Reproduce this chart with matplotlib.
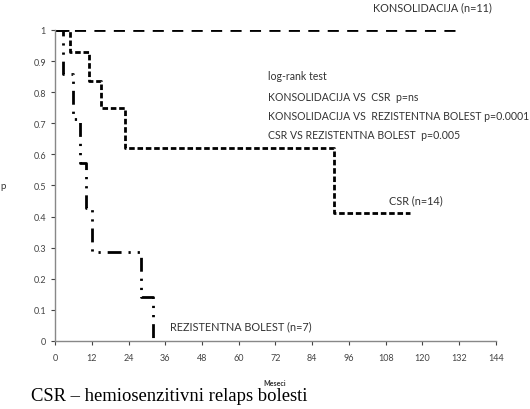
import matplotlib.pyplot as plt

# survival data (months, probability)
kons_t = [0, 132]
kons_p = [1.0, 1.0]

csr_t = [0, 5, 11, 15, 23, 91, 116]
csr_p = [1.0, 0.929, 0.836, 0.75, 0.62, 0.41, 0.41]

rez_t = [0, 2.5, 6, 8, 10, 12, 28, 32]
rez_p = [1.0, 0.857, 0.714, 0.571, 0.429, 0.286, 0.143, 0.0]

xticks = list(range(0, 145, 12))
yticks = [0, 0.1, 0.2, 0.3, 0.4, 0.5, 0.6, 0.7, 0.8, 0.9, 1]
ytick_labels = ["0", "0.1", "0.2", "0.3", "0.4", "0.5", "0.6", "0.7", "0.8", "0.9", "1"]

stats_lines = [
    "log-rank test",
    "KONSOLIDACIJA VS  CSR  p=ns",
    "KONSOLIDACIJA VS  REZISTENTNA BOLEST p=0.0001",
    "CSR VS REZISTENTNA BOLEST  p=0.005",
]

plt.rcParams['font.family'] = ['Lato', 'DejaVu Sans']

fig = plt.figure(figsize=(5.3, 4.1), dpi=100)
ax = fig.add_axes([0.1038, 0.1659, 0.832, 0.7585])

ax.plot(kons_t, kons_p, color="black", lw=2, linestyle=(0, (4, 3)),
        drawstyle="steps-post")
ax.plot(csr_t, csr_p, color="black", lw=2, linestyle=(0, (2, 1)),
        drawstyle="steps-post")
ax.plot(rez_t, rez_p, color="black", lw=2, linestyle=(0, (5, 2.5, 0.8, 2.5, 0.8, 2.5)),
        drawstyle="steps-post")

ax.set_xlim(0, 144)
ax.set_ylim(0, 1)
ax.set_xticks(xticks)
ax.set_yticks(yticks)
ax.set_yticklabels(ytick_labels)
ax.tick_params(labelsize=6.5, colors="#444444", length=3, width=0.8)
ax.tick_params(axis="x", pad=6)

for s in ["top", "right"]:
    ax.spines[s].set_visible(False)
for s in ["left", "bottom"]:
    ax.spines[s].set_color("#888888")
    ax.spines[s].set_linewidth(1)

ax.set_ylabel("p", rotation=0, fontsize=7, color="#333333", labelpad=22, va="center")

# labels
ax.text(104, 1.073, "KONSOLIDACIJA (n=11)", fontsize=7.8, color="#333333", va="center")
ax.text(109, 0.455, "CSR (n=14)", fontsize=7.8, color="#333333", va="center")
ax.text(37.5, 0.05, "REZISTENTNA BOLEST (n=7)", fontsize=7.8, color="#333333", va="center")

ys = [0.855, 0.785, 0.724, 0.663]
for line, yy in zip(stats_lines, ys):
    ax.text(69.5, yy, line, fontsize=7.6, color="#333333", va="center")

fig.text(0.519, 0.058, "Meseci", fontsize=5, fontweight="bold", color="#333333", ha="center")
fig.text(0.058, 0.022, "CSR – hemiosenzitivni relaps bolesti", fontsize=13.4,
         family="Liberation Serif", color="black")

plt.savefig("out.png", dpi=100)
